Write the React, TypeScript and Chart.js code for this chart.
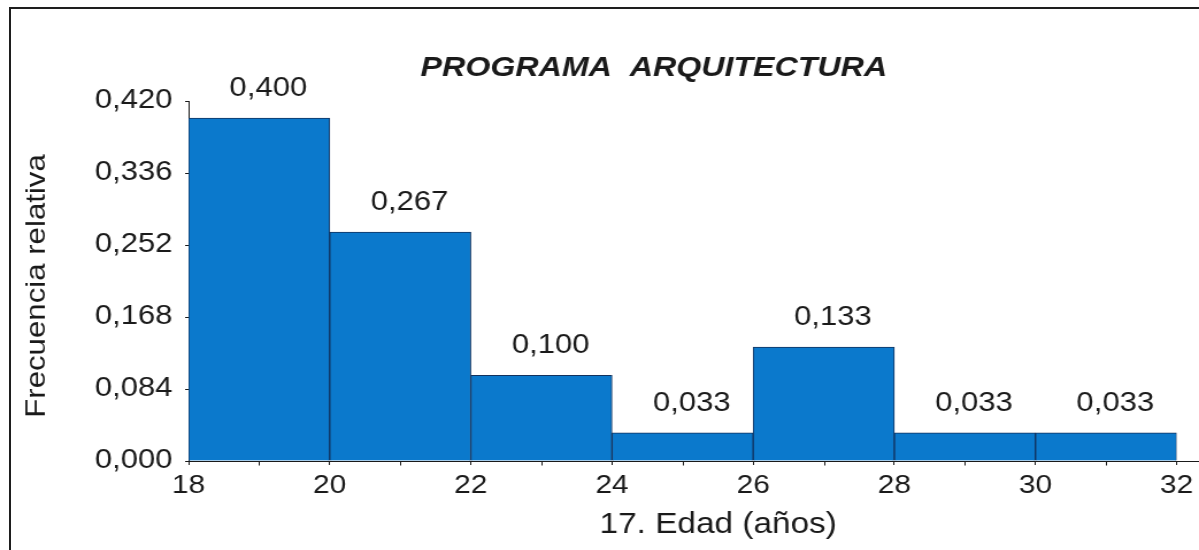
import { useEffect, useRef } from 'react';
import { Chart, registerables } from 'chart.js';

Chart.register(...registerables);

// ---- data ----
const CLASS_MIDPOINTS = [19, 21, 23, 25, 27, 29, 31];
const REL_FREQ = [0.4, 0.267, 0.1, 0.033, 0.133, 0.033, 0.033];
const X_MAJOR_TICKS = [18, 20, 22, 24, 26, 28, 30, 32];
const X_MINOR_TICKS = [19, 21, 23, 25, 27, 29, 31];
const Y_TICKS = [0, 0.084, 0.168, 0.252, 0.336, 0.42];
const TITLE = 'PROGRAMA  ARQUITECTURA';
const X_TITLE = '17. Edad (años)';
const Y_TITLE = 'Frecuencia relativa';

// ---- style ----
const FONT = '"Liberation Sans", Arial, Helvetica, sans-serif';
const TEXT = '#1a1a1a';
const AXIS = '#1a1a1a';
const BAR_FILL = '#0b79cc';
const BAR_EDGE = '#12325e';
const CANVAS_W = 1043; // drawn narrower, shown stretched to 1199 like the reference
const CANVAS_H = 550;

const fmt = (v: number) => v.toFixed(3).replace('.', ',');

const decorPlugin = {
  id: 'decor',
  afterDatasetsDraw(chart: any) {
    const { ctx } = chart;
    const meta = chart.getDatasetMeta(0);
    ctx.save();
    ctx.font = `27px ${FONT}`;
    ctx.fillStyle = TEXT;
    ctx.textAlign = 'center';
    ctx.textBaseline = 'alphabetic';
    meta.data.forEach((el: any, i: number) => {
      const { x, y } = el.getProps(['x', 'y'], true);
      ctx.fillText(fmt(REL_FREQ[i]), x + 8, y - 22);
    });
    ctx.restore();
  },
  afterDraw(chart: any) {
    const { ctx, chartArea, width } = chart;
    const xs = chart.scales.x;
    const by = Math.round(chartArea.bottom) + 0.5;
    ctx.save();
    ctx.strokeStyle = AXIS;
    ctx.lineWidth = 1;
    // axis line continues to the right edge
    ctx.beginPath();
    ctx.moveTo(chartArea.right, by);
    ctx.lineTo(width, by);
    ctx.stroke();
    // minor ticks
    ctx.beginPath();
    X_MINOR_TICKS.forEach((v) => {
      const px = Math.round(xs.getPixelForValue(v)) + 0.5;
      ctx.moveTo(px, by);
      ctx.lineTo(px, by + 4);
    });
    ctx.stroke();

    const cx = (chartArea.left + chartArea.right) / 2;
    ctx.fillStyle = TEXT;
    ctx.textAlign = 'center';
    ctx.textBaseline = 'alphabetic';
    // main title
    ctx.font = `italic bold 28px ${FONT}`;
    ctx.fillText(TITLE, cx - 25, 76);
    // x title
    ctx.font = `29px ${FONT}`;
    ctx.fillText(X_TITLE, cx + 31, 533);
    // y title
    ctx.translate(39, (chartArea.top + chartArea.bottom) / 2 + 5);
    ctx.rotate(-Math.PI / 2);
    ctx.scale(1.3, 1);
    ctx.font = `24px ${FONT}`;
    ctx.fillText(Y_TITLE, 0, 0);
    ctx.restore();
  },
};

export default function App() {
  const ref = useRef<HTMLCanvasElement>(null);

  useEffect(() => {
    if (!ref.current) return;
    const chart = new Chart(ref.current, {
      type: 'bar',
      data: {
        datasets: [
          {
            data: CLASS_MIDPOINTS.map((x, i) => ({ x, y: REL_FREQ[i] })),
            backgroundColor: BAR_FILL,
            borderColor: BAR_EDGE,
            borderWidth: 1,
            barPercentage: 1,
            categoryPercentage: 1,
          },
        ],
      },
      options: {
        animation: false,
        responsive: false,
        devicePixelRatio: 1,
        layout: { padding: { left: 0, right: 17, top: 101, bottom: 0 } },
        plugins: { legend: { display: false }, tooltip: { enabled: false }, title: { display: false } },
        scales: {
          x: {
            type: 'linear',
            min: 18,
            max: 32,
            offset: false,
            afterBuildTicks: (scale: any) => {
              scale.ticks = X_MAJOR_TICKS.map((v) => ({ value: v }));
            },
            afterFit: (scale: any) => {
              scale.height = 89;
            },
            ticks: {
              autoSkip: false,
              maxRotation: 0,
              padding: 5,
              color: TEXT,
              font: { family: FONT, size: 26 },
              callback: (v: any) => String(v),
            },
            grid: { offset: false, drawOnChartArea: false, drawTicks: true, tickLength: 4, color: AXIS },
            border: { display: true, color: AXIS, width: 1 },
          },
          y: {
            type: 'linear',
            min: 0,
            max: 0.42,
            afterBuildTicks: (scale: any) => {
              scale.ticks = Y_TICKS.map((v) => ({ value: v }));
            },
            afterFit: (scale: any) => {
              scale.width = 164;
            },
            ticks: {
              padding: 11,
              color: TEXT,
              font: { family: FONT, size: 27 },
              callback: (v: any) => fmt(Number(v)),
            },
            grid: { drawOnChartArea: false, drawTicks: true, tickLength: 3, color: AXIS },
            border: { display: true, color: AXIS, width: 1 },
          },
        },
      } as any,
      plugins: [decorPlugin],
    });
    return () => chart.destroy();
  }, []);

  return (
    <div
      style={{
        position: 'fixed',
        left: 0,
        top: 0,
        width: 1199,
        height: 550,
        overflow: 'hidden',
        background: '#ffffff',
      }}
    >
      <canvas
        ref={ref}
        width={CANVAS_W}
        height={CANVAS_H}
        style={{ position: 'absolute', left: 0, top: 0, width: '1199px', height: '550px' }}
      />
      <div
        style={{
          position: 'absolute',
          left: 9,
          top: 7,
          width: 1400,
          height: 800,
          borderTop: '2px solid #1e1e1e',
          borderLeft: '2px solid #1e1e1e',
          pointerEvents: 'none',
        }}
      />
    </div>
  );
}
